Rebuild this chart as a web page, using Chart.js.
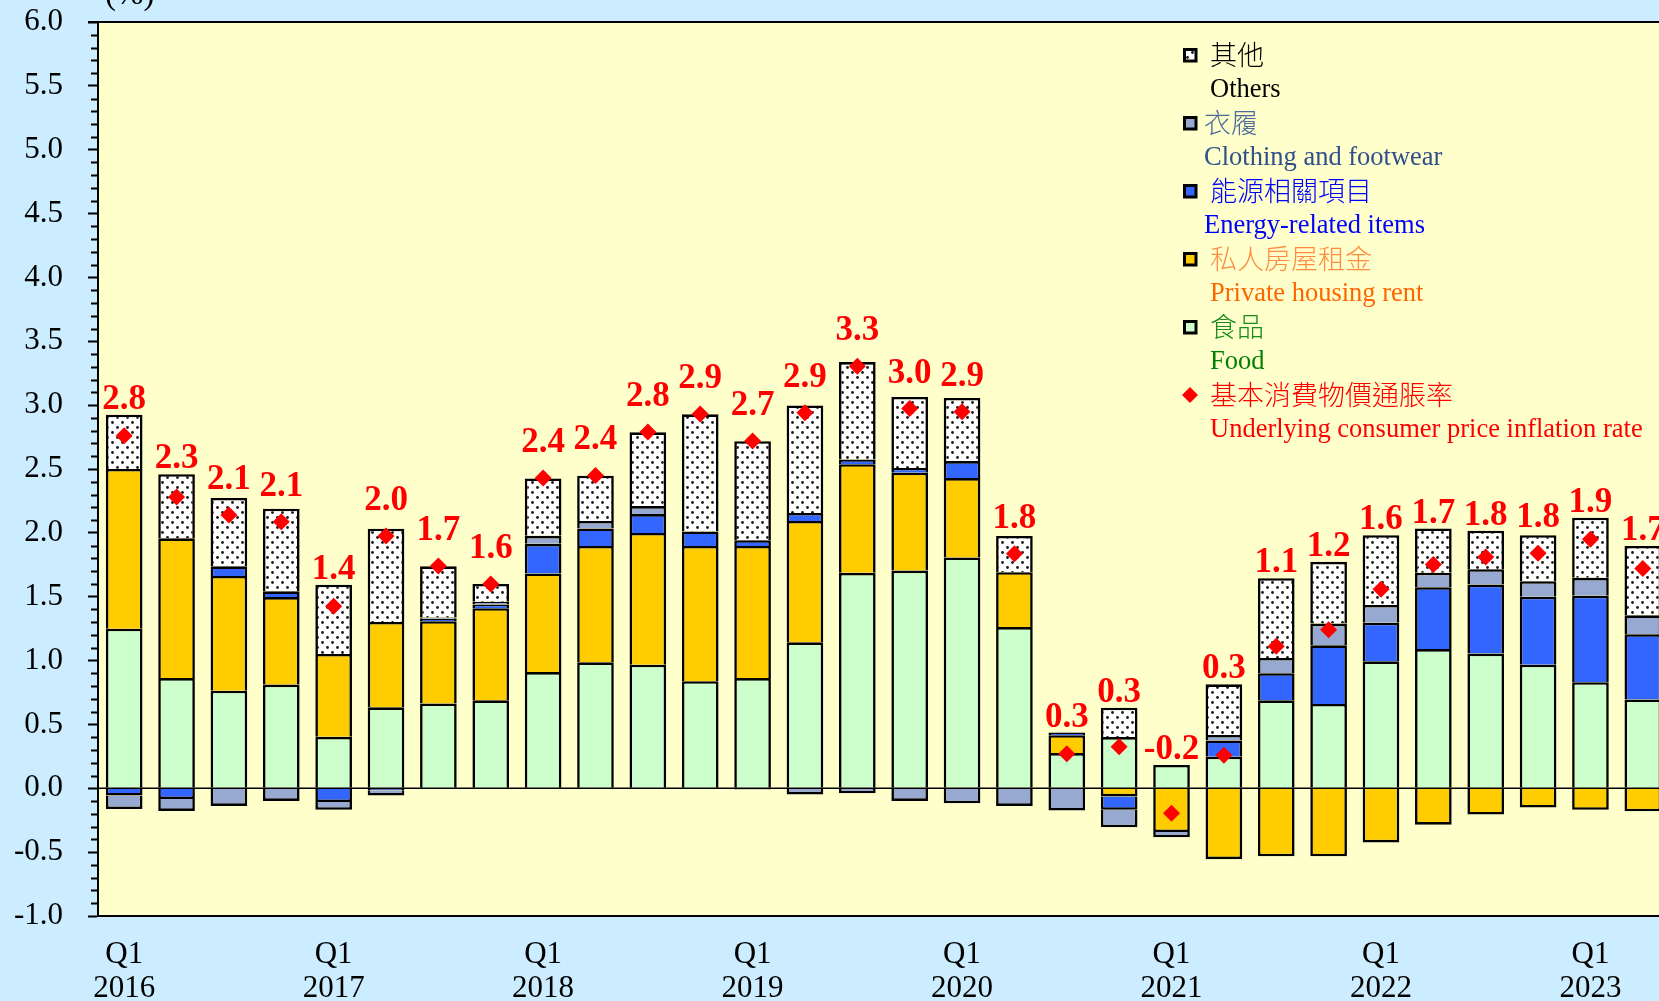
<!DOCTYPE html>
<html><head><meta charset="utf-8">
<script src="https://cdn.jsdelivr.net/npm/chart.js@4.4.1/dist/chart.umd.min.js"></script>
<style>
html,body{margin:0;padding:0;overflow:hidden;background:#CCECFF;}
#wrap{position:absolute;left:0;top:0;width:1700px;height:1001px;}
</style></head><body>
<div id="wrap"><canvas id="c"></canvas></div>
<script>
// ---------- DATA ----------
const categories = ['2016 Q1','2016 Q2','2016 Q3','2016 Q4','2017 Q1','2017 Q2','2017 Q3','2017 Q4',
  '2018 Q1','2018 Q2','2018 Q3','2018 Q4','2019 Q1','2019 Q2','2019 Q3','2019 Q4',
  '2020 Q1','2020 Q2','2020 Q3','2020 Q4','2021 Q1','2021 Q2','2021 Q3','2021 Q4',
  '2022 Q1','2022 Q2','2022 Q3','2022 Q4','2023 Q1','2023 Q2'];
const tickLabels = [['Q1','2016'],'','','',['Q1','2017'],'','','',['Q1','2018'],'','','',
  ['Q1','2019'],'','','',['Q1','2020'],'','','',['Q1','2021'],'','','',['Q1','2022'],'','','',
  ['Q1','2023'],''];
const yTicks = [-1.0,-0.5,0.0,0.5,1.0,1.5,2.0,2.5,3.0,3.5,4.0,4.5,5.0,5.5,6.0];
const food = [1.25,0.863,0.764,0.812,0.403,0.634,0.664,0.689,0.91,0.986,0.968,0.839,0.863,1.143,1.687,1.705,
  1.807,1.262,0.276,0.401,0.183,0.247,0.689,0.66,0.994,1.09,1.055,0.968,0.831,0.695];
const rent = [1.25,1.094,0.899,0.685,0.649,0.668,0.644,0.721,0.772,0.911,1.031,1.058,1.034,0.95,0.851,0.766,
  0.622,0.43,0.14,-0.064,-0.343,-0.555,-0.532,-0.532,-0.424,-0.285,-0.206,-0.151,-0.169,-0.18];
const energy = [-0.057,-0.084,0.075,0.045,-0.108,-0.015,0.02,0.03,0.232,0.138,0.148,0.114,0.045,0.063,0.036,0.037,
  0.133,0,0.02,-0.105,0,0.128,0.212,0.459,0.302,0.485,0.54,0.532,0.677,0.511];
const clothing = [-0.105,-0.093,-0.138,-0.099,-0.06,-0.042,0.01,0.02,0.063,0.058,0.063,0,-0.01,-0.048,-0.039,-0.099,
  -0.117,-0.138,-0.174,-0.137,-0.041,0.043,0.119,0.171,0.14,0.113,0.12,0.122,0.14,0.148];
const others = [0.425,0.502,0.535,0.647,0.542,0.731,0.40,0.14,0.449,0.354,0.577,0.917,0.776,0.842,0.763,0.556,
  0.494,0.284,0,0.23,0,0.396,0.625,0.483,0.546,0.346,0.302,0.36,0.471,0.544];
const underlyingRate = [2.76,2.28,2.14,2.087,1.425,1.975,1.74,1.60,2.43,2.45,2.79,2.93,2.72,2.94,3.305,2.973,
  2.948,1.837,0.27,0.325,-0.195,0.259,1.113,1.241,1.558,1.752,1.81,1.84,1.95,1.72];
const rateLabels = [2.8,2.3,2.1,2.1,1.4,2.0,1.7,1.6,2.4,2.4,2.8,2.9,2.7,2.9,3.3,3.0,
  2.9,1.8,0.3,0.3,-0.2,0.3,1.1,1.2,1.6,1.7,1.8,1.8,1.9,1.7];
const legendItems = [
  {zh:'其他', en:'Others'},
  {zh:'衣履', en:'Clothing and footwear'},
  {zh:'能源相關項目', en:'Energy-related items'},
  {zh:'私人房屋租金', en:'Private housing rent'},
  {zh:'食品', en:'Food'},
  {zh:'基本消費物價通脹率', en:'Underlying consumer price inflation rate'}
];
const unitLabel = '(%)';

// ---------- STYLE ----------
const SERIF = '"Liberation Serif", "Times New Roman", serif';
const CJK = '"Noto Sans CJK TC", "Noto Sans CJK SC", sans-serif';
const canvas = document.getElementById('c');
const ctx0 = canvas.getContext('2d');
function makeDots(){
  const c = document.createElement('canvas'); c.width = 10; c.height = 10;
  const g = c.getContext('2d');
  g.fillStyle = '#ffffff'; g.fillRect(0,0,10,10);
  g.fillStyle = '#1a1a1a';
  [[2.5,2.5],[7.5,7.5]].forEach(p => { g.beginPath(); g.arc(p[0], p[1], 1.4, 0, Math.PI*2); g.fill(); });
  return ctx0.createPattern(c, 'repeat');
}
const dots = makeDots();
const colors = {food:'#CCFFCC', rent:'#FFCC00', energy:'#3366FF', clothing:'#97A9D0', others:dots, rate:'#FF0000'};
const legendStyle = [
  {fill:colors.others, zhC:'#000000', enC:'#000000', zhX:1210, enX:1210},
  {fill:colors.clothing, zhC:'#4A6A99', enC:'#2F4F8A', zhX:1204, enX:1204},
  {fill:colors.energy, zhC:'#0000FF', enC:'#0000FF', zhX:1210, enX:1204},
  {fill:colors.rent, zhC:'#FF8C40', enC:'#FF6600', zhX:1210, enX:1210},
  {fill:colors.food, zhC:'#1A8C1A', enC:'#008000', zhX:1210, enX:1210},
  {diamond:true, zhC:'#FF0000', enC:'#FF0000', zhX:1210, enX:1210}
];

function barSet(label, data, color){
  return {type:'bar', label, data, backgroundColor:color, borderColor:'#000', borderWidth:2.6,
    borderSkipped:'start', barPercentage:0.7, categoryPercentage:1, order:1};
}

const plotPlugin = {
  id:'plotDeco',
  beforeDraw(chart){
    const {ctx, chartArea:a} = chart;
    ctx.save();
    ctx.fillStyle = '#FFFFCC';
    ctx.fillRect(a.left, a.top, a.right - a.left, a.bottom - a.top);
    ctx.restore();
  },
  afterDatasetsDraw(chart){
    const {ctx, chartArea:a, scales:{x, y}} = chart;
    ctx.save();
    const y0 = y.getPixelForValue(0);
    ctx.strokeStyle = '#000'; ctx.lineWidth = 1.6;
    ctx.beginPath(); ctx.moveTo(a.left, y0); ctx.lineTo(a.right, y0); ctx.stroke();
    ctx.lineWidth = 2;
    ctx.beginPath(); ctx.moveTo(a.left - 10, a.top); ctx.lineTo(a.right, a.top); ctx.stroke();
    for (let k = -10; k <= 60; k++) {
      if (k % 5 === 0) continue;
      const py = Math.round(y.getPixelForValue(k / 10)) + 0.5;
      ctx.beginPath(); ctx.moveTo(a.left - 7, py); ctx.lineTo(a.left, py); ctx.stroke();
    }
    const meta = chart.getDatasetMeta(5);
    ctx.fillStyle = '#FF0000';
    ctx.font = 'bold 35px ' + SERIF;
    ctx.textAlign = 'center'; ctx.textBaseline = 'alphabetic';
    for (let i = 0; i < categories.length; i++) {
      const pt = meta.data[i];
      const pos = [food, rent, energy, clothing, others].reduce((s, arr) => s + Math.max(arr[i], 0), 0);
      const topY = y.getPixelForValue(pos);
      const by = Math.min(pt.y - 26, topY - 6);
      ctx.fillText(rateLabels[i].toFixed(1), pt.x, by);
    }
    ctx.restore();
  },
  afterDraw(chart){
    const {ctx} = chart;
    ctx.save();
    ctx.fillStyle = '#000'; ctx.font = '33px ' + SERIF;
    ctx.textAlign = 'left'; ctx.textBaseline = 'alphabetic';
    ctx.fillText(unitLabel, 105, 4);
    legendItems.forEach((it, k) => {
      const st = legendStyle[k];
      const cy = 55 + 68 * k;
      if (st.diamond) {
        ctx.fillStyle = colors.rate;
        ctx.beginPath();
        ctx.moveTo(1190, cy - 8); ctx.lineTo(1198, cy); ctx.lineTo(1190, cy + 8); ctx.lineTo(1182, cy);
        ctx.closePath(); ctx.fill();
      } else {
        ctx.fillStyle = st.fill;
        ctx.fillRect(1184.5, cy - 5.5, 11.5, 11.5);
        ctx.strokeStyle = '#000'; ctx.lineWidth = 3;
        ctx.strokeRect(1184.5, cy - 5.5, 11.5, 11.5);
      }
      ctx.textAlign = 'left';
      ctx.font = '300 27px ' + CJK;
      ctx.textBaseline = 'middle';
      ctx.fillStyle = st.zhC;
      ctx.fillText(it.zh, st.zhX, cy);
      ctx.font = '26.5px ' + SERIF;
      ctx.textBaseline = 'alphabetic';
      ctx.fillStyle = st.enC;
      ctx.fillText(it.en, st.enX, cy + 41.5);
    });
    ctx.restore();
  }
};

new Chart(canvas, {
  data: {
    labels: categories,
    datasets: [
      barSet('食品 Food', food, colors.food),
      barSet('私人房屋租金 Private housing rent', rent, colors.rent),
      barSet('能源相關項目 Energy-related items', energy, colors.energy),
      barSet('衣履 Clothing and footwear', clothing, colors.clothing),
      barSet('其他 Others', others, colors.others),
      {type:'line', label:'基本消費物價通脹率 Underlying consumer price inflation rate', data: underlyingRate,
        showLine:false, pointStyle:'rectRot', pointRadius:8.5, pointBackgroundColor:colors.rate,
        pointBorderColor:'rgba(0,0,0,0)', pointBorderWidth:0, borderWidth:0, order:0}
    ]
  },
  options: {
    responsive:true, maintainAspectRatio:false, animation:false, events:[],
    layout:{padding:{left:0, right:31, top:22, bottom:0}},
    plugins:{legend:{display:false}, tooltip:{enabled:false}},
    scales:{
      x:{
        stacked:true,
        afterFit(s){ s.height = 85; s.paddingLeft = 0; s.paddingRight = 0; s.paddingTop = 0; s.paddingBottom = 0; },
        grid:{display:false},
        border:{display:true, color:'#000', width:2},
        ticks:{autoSkip:false, maxRotation:0, minRotation:0, padding:14, color:'#000',
          font:{family:SERIF, size:31, lineHeight:1.1},
          callback:(v, i) => tickLabels[i]}
      },
      y:{
        stacked:true, min:yTicks[0], max:yTicks[yTicks.length - 1],
        afterFit(s){ s.width = 98; s.paddingTop = 0; s.paddingBottom = 0; s.paddingLeft = 0; s.paddingRight = 0; },
        afterBuildTicks(s){ s.ticks = yTicks.map(v => ({value:v})); },
        ticks:{color:'#000', padding:25, font:{family:SERIF, size:31}, callback:v => Number(v).toFixed(1)},
        grid:{drawOnChartArea:false, tickColor:'#000', tickWidth:2, tickLength:10},
        border:{display:true, color:'#000', width:2}
      }
    }
  },
  plugins:[plotPlugin]
});
</script>
</body></html>
